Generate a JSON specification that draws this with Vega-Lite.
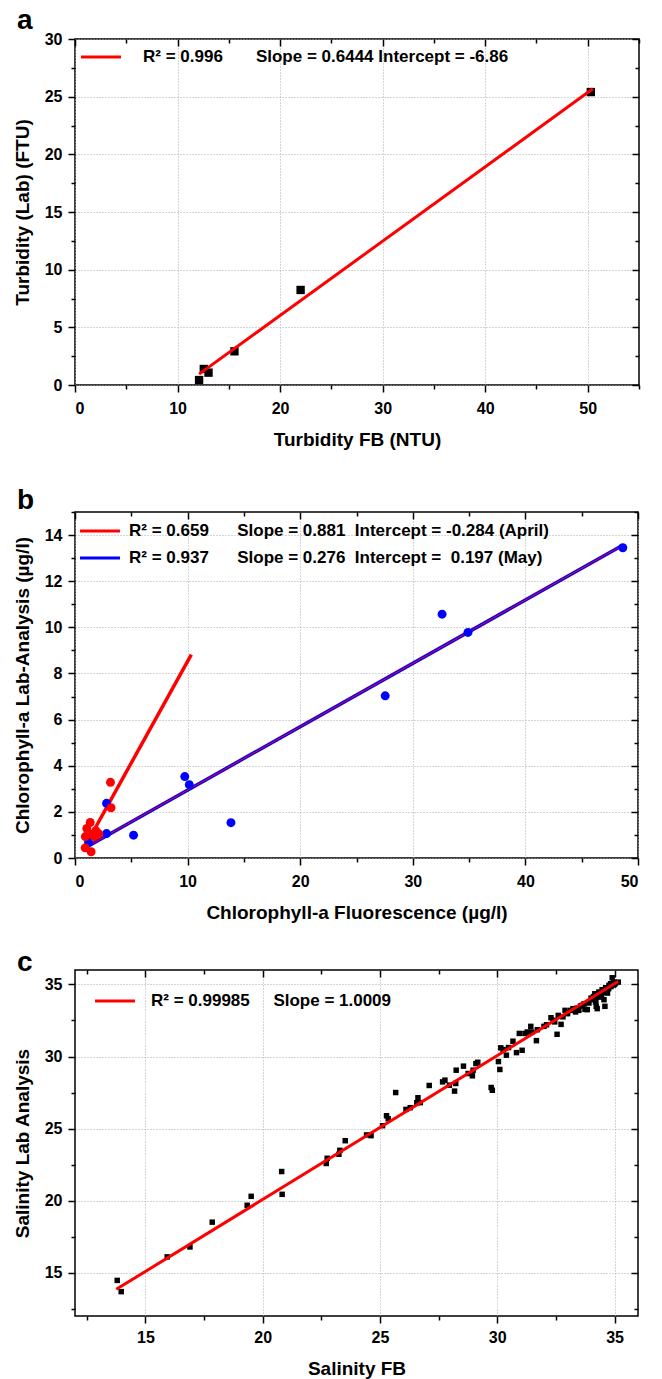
{
  "$schema": "https://vega.github.io/schema/vega-lite/v6.json",
  "padding": {"left": 12, "top": 6, "right": 5, "bottom": 5},
  "datasets": {
    "a_pts": [
      {"x": 12.1, "y": 0.43}, {"x": 12.56, "y": 1.39}, {"x": 13.02, "y": 1.07},
      {"x": 15.55, "y": 2.92}, {"x": 22.0, "y": 8.24}, {"x": 50.3, "y": 25.4}
    ],
    "a_fit": [
      {"x": 12.1, "y": 0.94, "fit": "R\u00b2 = 0.996\u00a0\u00a0\u00a0\u00a0\u00a0\u00a0\u00a0Slope = 0.6444 Intercept = -6.86"},
      {"x": 50.5, "y": 25.68, "fit": "R\u00b2 = 0.996\u00a0\u00a0\u00a0\u00a0\u00a0\u00a0\u00a0Slope = 0.6444 Intercept = -6.86"}
    ],
    "b_pts": [
      {"x": 3.15, "y": 3.28, "month": "April"}, {"x": 3.2, "y": 2.18, "month": "April"},
      {"x": 1.35, "y": 1.54, "month": "April"}, {"x": 1.05, "y": 1.28, "month": "April"},
      {"x": 0.92, "y": 0.93, "month": "April"}, {"x": 1.55, "y": 1.03, "month": "April"},
      {"x": 1.85, "y": 1.18, "month": "April"}, {"x": 1.95, "y": 1.0, "month": "April"},
      {"x": 1.7, "y": 0.93, "month": "April"}, {"x": 2.1, "y": 1.05, "month": "April"},
      {"x": 0.9, "y": 0.44, "month": "April"}, {"x": 1.43, "y": 0.27, "month": "April"},
      {"x": 1.2, "y": 0.68, "month": "May"}, {"x": 2.8, "y": 2.37, "month": "May"},
      {"x": 2.8, "y": 1.06, "month": "May"}, {"x": 5.2, "y": 0.99, "month": "May"},
      {"x": 9.75, "y": 3.53, "month": "May"}, {"x": 10.15, "y": 3.18, "month": "May"},
      {"x": 13.85, "y": 1.53, "month": "May"}, {"x": 27.55, "y": 7.03, "month": "May"},
      {"x": 32.6, "y": 10.57, "month": "May"}, {"x": 34.9, "y": 9.78, "month": "May"},
      {"x": 48.65, "y": 13.45, "month": "May"}
    ],
    "b_fit": [
      {"x": 0.9, "y": 0.51, "month": "April", "fit": "R\u00b2 = 0.659\u00a0\u00a0\u00a0\u00a0\u00a0\u00a0Slope = 0.881\u00a0\u00a0Intercept = -0.284 (April)"},
      {"x": 10.33, "y": 8.82, "month": "April", "fit": "R\u00b2 = 0.659\u00a0\u00a0\u00a0\u00a0\u00a0\u00a0Slope = 0.881\u00a0\u00a0Intercept = -0.284 (April)"},
      {"x": 1.0, "y": 0.47, "month": "May", "fit": "R\u00b2 = 0.937\u00a0\u00a0\u00a0\u00a0\u00a0\u00a0Slope = 0.276\u00a0\u00a0Intercept =\u00a0\u00a00.197 (May)"},
      {"x": 48.6, "y": 13.55, "month": "May", "fit": "R\u00b2 = 0.937\u00a0\u00a0\u00a0\u00a0\u00a0\u00a0Slope = 0.276\u00a0\u00a0Intercept =\u00a0\u00a00.197 (May)"}
    ],
    "c_pts": [
      {"x": 13.8, "y": 14.47}, {"x": 13.97, "y": 13.69}, {"x": 15.93, "y": 16.1}, {"x": 16.9, "y": 16.79},
      {"x": 17.85, "y": 18.51}, {"x": 19.34, "y": 19.68}, {"x": 19.51, "y": 20.3}, {"x": 20.81, "y": 22.02},
      {"x": 20.83, "y": 20.44}, {"x": 22.71, "y": 22.58}, {"x": 22.75, "y": 22.94}, {"x": 23.25, "y": 23.22},
      {"x": 23.29, "y": 23.49}, {"x": 23.52, "y": 24.16}, {"x": 24.43, "y": 24.56}, {"x": 24.62, "y": 24.51},
      {"x": 25.11, "y": 25.2}, {"x": 25.28, "y": 25.89}, {"x": 25.35, "y": 25.68}, {"x": 25.67, "y": 27.5},
      {"x": 26.11, "y": 26.33}, {"x": 26.29, "y": 26.45}, {"x": 26.57, "y": 26.79}, {"x": 26.62, "y": 27.14},
      {"x": 26.72, "y": 26.8}, {"x": 27.1, "y": 27.99}, {"x": 27.67, "y": 28.24}, {"x": 27.77, "y": 28.36},
      {"x": 27.96, "y": 28.01}, {"x": 28.18, "y": 27.6}, {"x": 28.23, "y": 28.13}, {"x": 28.25, "y": 29.05},
      {"x": 28.56, "y": 29.33}, {"x": 28.76, "y": 28.82}, {"x": 28.94, "y": 28.66}, {"x": 28.97, "y": 29.05},
      {"x": 29.09, "y": 29.51}, {"x": 29.17, "y": 29.6}, {"x": 29.74, "y": 27.85}, {"x": 29.79, "y": 27.66},
      {"x": 30.05, "y": 29.65}, {"x": 30.11, "y": 29.1}, {"x": 30.15, "y": 30.6}, {"x": 30.25, "y": 30.48},
      {"x": 30.39, "y": 30.09}, {"x": 30.48, "y": 30.62}, {"x": 30.67, "y": 31.06}, {"x": 30.82, "y": 30.27},
      {"x": 30.94, "y": 31.6}, {"x": 31.06, "y": 30.43}, {"x": 31.18, "y": 31.6}, {"x": 31.28, "y": 31.7},
      {"x": 31.43, "y": 32.09}, {"x": 31.47, "y": 31.7}, {"x": 31.67, "y": 31.1}, {"x": 31.71, "y": 31.86},
      {"x": 31.99, "y": 32.09}, {"x": 32.29, "y": 32.69}, {"x": 32.38, "y": 32.51}, {"x": 32.55, "y": 31.54},
      {"x": 32.6, "y": 32.85}, {"x": 32.72, "y": 32.23}, {"x": 32.89, "y": 33.2}, {"x": 32.99, "y": 32.97},
      {"x": 33.13, "y": 33.2}, {"x": 33.23, "y": 33.32}, {"x": 33.34, "y": 33.09}, {"x": 33.48, "y": 33.2},
      {"x": 33.62, "y": 33.55}, {"x": 33.74, "y": 33.27}, {"x": 33.84, "y": 33.25}, {"x": 33.91, "y": 33.71},
      {"x": 34.05, "y": 33.94}, {"x": 34.16, "y": 34.35}, {"x": 34.19, "y": 33.78}, {"x": 34.22, "y": 33.48},
      {"x": 34.26, "y": 33.32}, {"x": 34.33, "y": 34.47}, {"x": 34.4, "y": 34.12}, {"x": 34.47, "y": 34.63},
      {"x": 34.55, "y": 33.94}, {"x": 34.59, "y": 33.48}, {"x": 34.62, "y": 34.77}, {"x": 34.69, "y": 34.58},
      {"x": 34.76, "y": 34.93}, {"x": 34.83, "y": 35.05}, {"x": 34.9, "y": 35.46}, {"x": 34.97, "y": 35.16},
      {"x": 35.04, "y": 35.09}, {"x": 35.16, "y": 35.16}, {"x": 32.1, "y": 32.2}, {"x": 32.45, "y": 32.4},
      {"x": 32.8, "y": 32.75}, {"x": 33.0, "y": 33.05}, {"x": 33.4, "y": 33.35}, {"x": 33.55, "y": 33.5},
      {"x": 33.7, "y": 33.65}, {"x": 34.0, "y": 34.05}, {"x": 34.1, "y": 34.15}, {"x": 34.3, "y": 34.2},
      {"x": 34.5, "y": 34.45}, {"x": 34.6, "y": 34.6}, {"x": 34.75, "y": 34.7}, {"x": 34.85, "y": 34.85},
      {"x": 34.95, "y": 34.95}, {"x": 35.0, "y": 35.0}, {"x": 34.2, "y": 33.9}, {"x": 34.45, "y": 34.3},
      {"x": 34.7, "y": 34.4}, {"x": 34.65, "y": 34.75}
    ],
    "c_fit": [
      {"x": 13.76, "y": 13.85, "fit": "R\u00b2 = 0.99985\u00a0\u00a0\u00a0\u00a0\u00a0Slope = 1.0009"},
      {"x": 35.15, "y": 35.2, "fit": "R\u00b2 = 0.99985\u00a0\u00a0\u00a0\u00a0\u00a0Slope = 1.0009"}
    ]
  },
  "spacing": 36,
  "resolve": {"scale": {"color": "independent"}, "legend": {"color": "independent"}},
  "vconcat": [
    {
      "width": 564,
      "height": 346,
      "title": {"text": "a", "offset": -4},
      "layer": [
        {
          "data": {"name": "a_pts"},
          "mark": {"type": "square", "size": 70, "color": "black", "opacity": 1},
          "encoding": {
            "x": {"field": "x", "type": "quantitative",
              "scale": {"domain": [0, 55], "nice": false, "zero": false},
              "axis": {"orient": "bottom", "title": "Turbidity FB (NTU)",
                "values": [0, 5, 10, 15, 20, 25, 30, 35, 40, 45, 50, 55],
                "labelExpr": "datum.value % 10 === 0 ? datum.label : ''",
                "tickSize": {"condition": {"test": "datum.value % 10 === 0", "value": 7}, "value": 4},
                "grid": true,
                "gridOpacity": {"condition": {"test": "datum.value % 10 === 0", "value": 1}, "value": 0},
                "labelPadding": 8, "titlePadding": 14}},
            "y": {"field": "y", "type": "quantitative",
              "scale": {"domain": [0, 30], "nice": false, "zero": false},
              "axis": {"orient": "left", "title": "Turbidity (Lab) (FTU)",
                "values": [0, 2.5, 5, 7.5, 10, 12.5, 15, 17.5, 20, 22.5, 25, 27.5, 30],
                "labelExpr": "datum.value % 5 === 0 ? datum.label : ''",
                "tickSize": {"condition": {"test": "datum.value % 5 === 0", "value": 7}, "value": 4},
                "grid": true,
                "gridOpacity": {"condition": {"test": "datum.value % 5 === 0", "value": 1}, "value": 0},
                "labelPadding": 6, "titlePadding": 11.5}}
          }
        },
        {
          "data": {"name": "a_fit"},
          "mark": {"type": "line", "strokeWidth": 3},
          "encoding": {
            "x": {"field": "x", "type": "quantitative",
              "axis": {"orient": "top", "title": null, "labels": false, "grid": false,
                "values": [0, 5, 10, 15, 20, 25, 30, 35, 40, 45, 50, 55],
                "tickSize": {"condition": {"test": "datum.value % 10 === 0", "value": -7}, "value": -4}}},
            "y": {"field": "y", "type": "quantitative",
              "axis": {"orient": "right", "title": null, "labels": false, "grid": false,
                "values": [0, 2.5, 5, 7.5, 10, 12.5, 15, 17.5, 20, 22.5, 25, 27.5, 30],
                "tickSize": {"condition": {"test": "datum.value % 5 === 0", "value": -7}, "value": -4}}},
            "color": {"field": "fit", "type": "nominal", "scale": {"range": ["#ff0000"]},
              "legend": {"offset": 3, "symbolOffset": 8, "labelOffset": 27}}
          }
        }
      ]
    },
    {
      "spacing": 25,
      "resolve": {"scale": {"color": "independent"}, "legend": {"color": "independent"}},
      "vconcat": [
        {
          "width": 563,
          "height": 346,
          "title": {"text": "b", "offset": -4},
          "layer": [
            {
              "data": {"name": "b_fit"},
              "mark": {"type": "line", "strokeWidth": 3.5},
              "encoding": {
                "x": {"field": "x", "type": "quantitative",
                  "scale": {"domain": [0, 50], "nice": false, "zero": false},
                  "axis": {"orient": "top", "title": null, "labels": false, "grid": false,
                    "values": [0, 5, 10, 15, 20, 25, 30, 35, 40, 45, 50],
                    "tickSize": {"condition": {"test": "datum.value % 10 === 0", "value": -7}, "value": -4}}},
                "y": {"field": "y", "type": "quantitative",
                  "scale": {"domain": [0, 15], "nice": false, "zero": false},
                  "axis": {"orient": "right", "title": null, "labels": false, "grid": false,
                    "values": [0, 1, 2, 3, 4, 5, 6, 7, 8, 9, 10, 11, 12, 13, 14, 15],
                    "tickSize": {"condition": {"test": "datum.value % 2 === 0", "value": -7}, "value": -4}}},
                "color": {"field": "fit", "type": "nominal",
                  "scale": {"domain": ["R\u00b2 = 0.659\u00a0\u00a0\u00a0\u00a0\u00a0\u00a0Slope = 0.881\u00a0\u00a0Intercept = -0.284 (April)", "R\u00b2 = 0.937\u00a0\u00a0\u00a0\u00a0\u00a0\u00a0Slope = 0.276\u00a0\u00a0Intercept =\u00a0\u00a00.197 (May)"], "range": ["#ff0000", "#0000ff"]},
                  "legend": {"offset": 4, "symbolOffset": 6, "labelOffset": 14, "rowPadding": 4}}
              }
            },
            {
              "data": {"name": "b_fit"},
              "transform": [{"filter": "datum.month === 'May'"}],
              "mark": {"type": "line", "strokeWidth": 1, "color": "#ff0000"},
              "encoding": {
                "x": {"field": "x", "type": "quantitative", "axis": null},
                "y": {"field": "y", "type": "quantitative", "axis": null}
              }
            },
            {
              "data": {"name": "b_pts"},
              "transform": [{"filter": "datum.month === 'May'"}],
              "mark": {"type": "circle", "size": 80, "color": "#0000ff", "opacity": 1},
              "encoding": {
                "x": {"field": "x", "type": "quantitative", "axis": null},
                "y": {"field": "y", "type": "quantitative", "axis": null}
              }
            },
            {
              "data": {"name": "b_pts"},
              "transform": [{"filter": "datum.month === 'April'"}],
              "mark": {"type": "circle", "size": 80, "color": "#ff0000", "opacity": 1},
              "encoding": {
                "x": {"field": "x", "type": "quantitative",
                  "axis": {"orient": "bottom", "title": "Chlorophyll-a Fluorescence (\u00b5g/l)",
                    "values": [0, 5, 10, 15, 20, 25, 30, 35, 40, 45, 50],
                    "labelExpr": "datum.value % 10 === 0 ? datum.label : ''",
                    "tickSize": {"condition": {"test": "datum.value % 10 === 0", "value": 7}, "value": 4},
                    "grid": true,
                    "gridOpacity": {"condition": {"test": "datum.value % 10 === 0", "value": 1}, "value": 0},
                    "labelPadding": 8, "titlePadding": 14}},
                "y": {"field": "y", "type": "quantitative",
                  "axis": {"orient": "left", "title": "Chlorophyll-a Lab-Analysis (\u00b5g/l)",
                    "values": [0, 1, 2, 3, 4, 5, 6, 7, 8, 9, 10, 11, 12, 13, 14, 15],
                    "labelExpr": "datum.value % 2 === 0 ? datum.label : ''",
                    "tickSize": {"condition": {"test": "datum.value % 2 === 0", "value": 7}, "value": 4},
                    "grid": true,
                    "gridOpacity": {"condition": {"test": "datum.value % 2 === 0", "value": 1}, "value": 0},
                    "labelPadding": 6, "titlePadding": 11.5}}
              }
            }
          ]
        },
        {
          "width": 563,
          "height": 346,
          "title": {"text": "c", "offset": -8},
          "layer": [
            {
              "data": {"name": "c_pts"},
              "mark": {"type": "square", "size": 30, "color": "black", "opacity": 1},
              "encoding": {
                "x": {"field": "x", "type": "quantitative",
                  "scale": {"domain": [12, 36], "nice": false, "zero": false},
                  "axis": {"orient": "bottom", "title": "Salinity FB",
                    "values": [12.5, 15, 17.5, 20, 22.5, 25, 27.5, 30, 32.5, 35],
                    "labelExpr": "datum.value % 5 === 0 ? datum.label : ''",
                    "tickSize": {"condition": {"test": "datum.value % 5 === 0", "value": 7}, "value": 4},
                    "grid": true,
                    "gridOpacity": {"condition": {"test": "datum.value % 5 === 0", "value": 1}, "value": 0},
                    "labelPadding": 6, "titlePadding": 14}},
                "y": {"field": "y", "type": "quantitative",
                  "scale": {"domain": [12, 36], "nice": false, "zero": false},
                  "axis": {"orient": "left", "title": "Salinity Lab Analysis",
                    "values": [12.5, 15, 17.5, 20, 22.5, 25, 27.5, 30, 32.5, 35],
                    "labelExpr": "datum.value % 5 === 0 ? datum.label : ''",
                    "tickSize": {"condition": {"test": "datum.value % 5 === 0", "value": 7}, "value": 4},
                    "grid": true,
                    "gridOpacity": {"condition": {"test": "datum.value % 5 === 0", "value": 1}, "value": 0},
                    "labelPadding": 6, "titlePadding": 11.5}}
              }
            },
            {
              "data": {"name": "c_fit"},
              "mark": {"type": "line", "strokeWidth": 3},
              "encoding": {
                "x": {"field": "x", "type": "quantitative",
                  "axis": {"orient": "top", "title": null, "labels": false, "grid": false,
                    "values": [12.5, 15, 17.5, 20, 22.5, 25, 27.5, 30, 32.5, 35],
                    "tickSize": {"condition": {"test": "datum.value % 5 === 0", "value": -7}, "value": -4}}},
                "y": {"field": "y", "type": "quantitative",
                  "axis": {"orient": "right", "title": null, "labels": false, "grid": false,
                    "values": [12.5, 15, 17.5, 20, 22.5, 25, 27.5, 30, 32.5, 35],
                    "tickSize": {"condition": {"test": "datum.value % 5 === 0", "value": -7}, "value": -4}}},
                "color": {"field": "fit", "type": "nominal", "scale": {"range": ["#ff0000"]},
                  "legend": {"offset": 16, "symbolOffset": 9, "labelOffset": 21}}
              }
            }
          ]
        }
      ]
    }
  ],
  "config": {
    "font": "Liberation Sans",
    "view": {"stroke": "#000000", "strokeWidth": 1.5},
    "axis": {
      "domain": false,
      "labelFont": "Liberation Sans", "labelFontSize": 16, "labelFontWeight": "bold", "labelColor": "#000000",
      "titleFont": "Liberation Sans", "titleFontSize": 19, "titleFontWeight": "bold", "titleColor": "#000000",
      "tickColor": "#000000", "tickWidth": 1.5,
      "gridColor": "#aaaaaa", "gridDash": [1, 2], "gridWidth": 1
    },
    "legend": {
      "orient": "top-left", "title": null, "symbolType": "M-1.48,0H1.48", "symbolStrokeWidth": 3, "symbolSize": 729,
      "labelFont": "Liberation Sans", "labelFontWeight": "bold", "labelFontSize": 17, "labelColor": "#000000",
      "labelLimit": 800, "padding": 0, "rowPadding": 0, "labelOffset": 12
    },
    "title": {"anchor": "start", "frame": "group", "font": "Liberation Sans", "fontSize": 28, "fontWeight": "bold", "color": "#000000", "dx": -58, "baseline": "alphabetic"}
  }
}
